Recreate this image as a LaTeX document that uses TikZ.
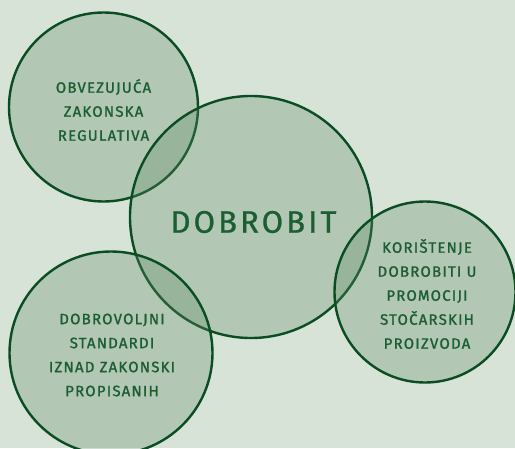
\documentclass[tikz,border=0pt]{standalone}
\usepackage{fontspec}
\setmainfont{Fira Sans}
\definecolor{bgc}{RGB}{216,227,216}
\definecolor{fillc}{RGB}{93,137,99}
\definecolor{linec}{RGB}{10,77,34}
\definecolor{textc}{RGB}{26,94,50}
\begin{document}
\begin{tikzpicture}[x=1pt,y=-1pt,
  bubble/.style={fill=fillc,fill opacity=0.3,draw=linec,draw opacity=1,line width=2.4pt},
  lbl/.style={text=textc,align=center,font=\fontsize{15}{24}\selectfont\addfontfeatures{LetterSpace=8,FakeBold=1.2}},
  big/.style={text=textc,font=\fontsize{31}{36}\selectfont\addfontfeatures{LetterSpace=10,FakeBold=0.8}}]
\fill[bgc] (0,0) rectangle (515,448);
\useasboundingbox (0,0) rectangle (515,448);
\begin{scope}
\clip (0,0) rectangle (515,448);
\path[bubble] (103.5,107) circle[radius=94.5];
\path[bubble] (251,217) circle[radius=121];
\path[bubble] (425,292) circle[radius=90.5];
\path[bubble] (111,353) circle[radius=101.5];
\end{scope}
\node[lbl] (reg) at (103.5,110) {OBVEZUJUĆA\\ZAKONSKA\\REGULATIVA};
\node[big] (dob) at (253.5,222) {DOBROBIT};
\node[lbl] (kor) at (427,294) {KORIŠTENJE\\DOBROBITI U\\PROMOCIJI\\STOČARSKIH\\PROIZVODA};
\node[lbl] (vol) at (112,355) {DOBROVOLJNI\\STANDARDI\\IZNAD ZAKONSKI\\PROPISANIH};
\end{tikzpicture}
\end{document}
